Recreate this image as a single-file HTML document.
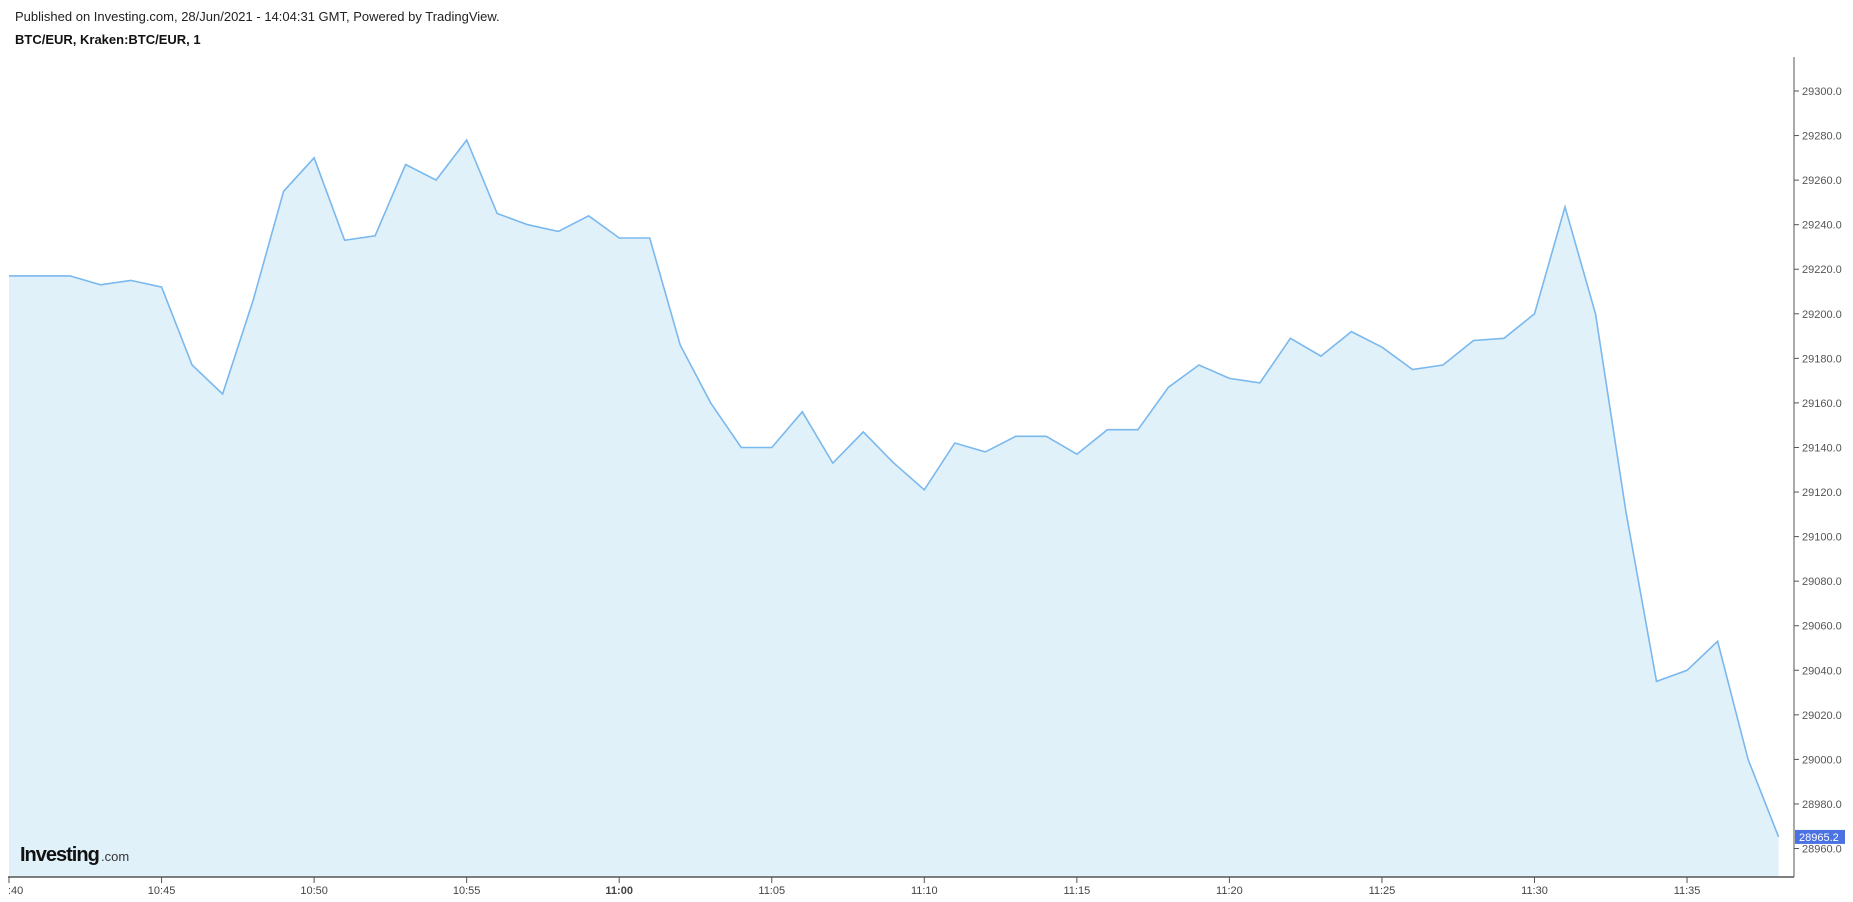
<!DOCTYPE html>
<html><head><meta charset="utf-8"><style>
body{margin:0;background:#fff;width:1853px;height:902px;overflow:hidden;font-family:"Liberation Sans",sans-serif}
</style></head><body>
<div style="position:absolute;left:15px;top:9px;font-size:13px;color:#222">Published on Investing.com, 28/Jun/2021 - 14:04:31 GMT, Powered by TradingView.</div>
<div style="position:absolute;left:15px;top:32px;font-size:13px;font-weight:bold;color:#111">BTC/EUR, Kraken:BTC/EUR, 1</div>
<svg id="c" width="1853" height="902" style="position:absolute;left:0;top:0"></svg>
<script>
const prices=[29217,29217,29217,29213,29215,29212,29177,29164,29206,29255,29270,29233,29235,29267,29260,29278,29245,29240,29237,29244,29234,29234,29186,29160,29140,29140,29156,29133,29147,29133,29121,29142,29138,29145,29145,29137,29148,29148,29167,29177,29171,29169,29189,29181,29192,29185,29175,29177,29188,29189,29200,29248,29200,29111,29035,29040,29053,29000,28965.2];
const yTicks=[29300,29280,29260,29240,29220,29200,29180,29160,29140,29120,29100,29080,29060,29040,29020,29000,28980,28960];
const xTickMinutes=[0,5,10,15,20,25,30,35,40,45,50,55];
const xTickLabels=[":40","10:45","10:50","10:55","11:00","11:05","11:10","11:15","11:20","11:25","11:30","11:35"];
const lastLabel="28965.2";
const NS="http://www.w3.org/2000/svg";
const svg=document.getElementById('c');
const X=m=>9+m*30.51;
const Y=v=>91+(29300-v)*44.56/20;
const L=8,R=1794,B=877,T=57;
function el(t,a,p){const e=document.createElementNS(NS,t);for(const k in a)e.setAttribute(k,a[k]);(p||svg).appendChild(e);return e;}
let pts=prices.map((v,i)=>X(i).toFixed(1)+','+Y(v).toFixed(1));
const area=el('polygon',{points:pts.join(' ')+' '+X(prices.length-1)+','+B+' '+X(0)+','+B,fill:'#e0f1fa'});


const line=el('polyline',{points:pts.join(' '),fill:'none',stroke:'#7ab8ee','stroke-width':1.6});


const ax=el('line',{x1:R,y1:T,x2:R,y2:B,stroke:'#555','stroke-width':1});


const bx=el('line',{x1:L,y1:B,x2:R,y2:B,stroke:'#555','stroke-width':1.5});


yTicks.forEach(v=>{
 el('line',{x1:R,y1:Y(v),x2:R+5,y2:Y(v),stroke:'#555'});
 const t=el('text',{x:R+8,y:Y(v)+4,'font-size':11,fill:'#555','font-family':'Liberation Sans, sans-serif'});
 t.textContent=v.toFixed(1);
 
 
});
xTickMinutes.forEach((m,i)=>{
 el('line',{x1:X(m),y1:B,x2:X(m),y2:B+6,stroke:'#555'});
 const t=el('text',{x:i==0?X(m)-1:X(m),y:B+17,'font-size':11,fill:'#444','text-anchor':i==0?'start':'middle','font-weight':xTickLabels[i]=="11:00"?'bold':'normal','font-family':'Liberation Sans, sans-serif'});
 t.textContent=xTickLabels[i];
 
 
});
const ly=Y(prices[prices.length-1]);
const bg=el('rect',{x:R+1,y:ly-7,width:50,height:14,fill:'#4a72e2'});


const lt=el('text',{x:R+5,y:ly+4,'font-size':11,fill:'#fff','font-family':'Liberation Sans, sans-serif'});
lt.textContent=lastLabel;


const logo=el('text',{x:20,y:861,'font-size':20,'font-weight':'bold',fill:'#111','letter-spacing':'-1','font-family':'Liberation Sans, sans-serif'});
logo.textContent='Investing';


const com=el('text',{x:101,y:861,'font-size':13,fill:'#333','font-family':'Liberation Sans, sans-serif'});
com.textContent='.com';


</script>
</body></html>
